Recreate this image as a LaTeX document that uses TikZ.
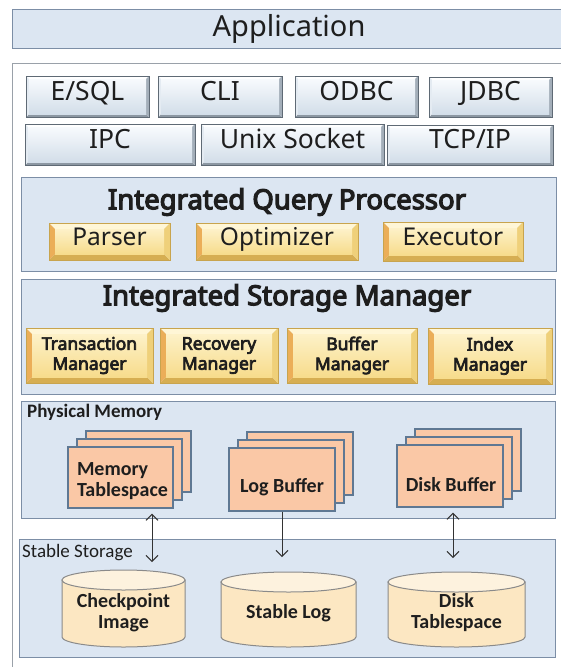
\documentclass[tikz,border=0pt]{standalone}
\usepackage{fontspec}
\setmainfont{Noto Sans}[AutoFakeBold=4]
\newfontfamily\titlefam{Noto Sans}[FakeBold=4.5]
\newfontfamily\mgrfam{Noto Sans}[FakeBold=4]
\newfontfamily\calfont{Carlito}
\usetikzlibrary{shadows,arrows.meta}
\definecolor{panelfill}{HTML}{DCE6F2}
\definecolor{panelline}{HTML}{7C8EA6}
\definecolor{outerline}{HTML}{9AA1A9}
\definecolor{bbfacetop}{HTML}{F7FAFD}
\definecolor{bbfacebot}{HTML}{D3DEE9}
\definecolor{bbtop}{HTML}{FFFFFF}
\definecolor{bbleft}{HTML}{E4EBF2}
\definecolor{bbright}{HTML}{A3AEB9}
\definecolor{bbbot}{HTML}{8C97A2}
\definecolor{bbline}{HTML}{5F6A75}
\definecolor{ybfacetop}{HTML}{FDF1C8}
\definecolor{ybfacebot}{HTML}{F7DC8C}
\definecolor{ybtop}{HTML}{FFF6D6}
\definecolor{ybleft}{HTML}{EBAE58}
\definecolor{ybright}{HTML}{EFD07A}
\definecolor{ybbot}{HTML}{D6AE52}
\definecolor{ybline}{HTML}{C8A44E}
\definecolor{peach}{HTML}{FAC8A6}
\definecolor{peachline}{HTML}{5F7893}
\definecolor{cylbody}{HTML}{FCE7C2}
\definecolor{cyltop}{HTML}{FDF2DE}
\definecolor{cylline}{HTML}{8A8A8A}
\definecolor{ink}{HTML}{1E1E1E}
\definecolor{arrowink}{HTML}{333333}

% bevelled button: name, x1, y1, x2, y2, bevel, scheme, text style, text
\newcommand\btn[9]{%
  \fill[#7-top] (#2,#3) -- (#4,#3) -- (#4-#6,#3+#6) -- (#2+#6,#3+#6) -- cycle;
  \fill[#7-bot] (#2,#5) -- (#4,#5) -- (#4-#6,#5-#6) -- (#2+#6,#5-#6) -- cycle;
  \fill[#7-left] (#2,#3) -- (#2+#6,#3+#6) -- (#2+#6,#5-#6) -- (#2,#5) -- cycle;
  \fill[#7-right] (#4,#3) -- (#4,#5) -- (#4-#6,#5-#6) -- (#4-#6,#3+#6) -- cycle;
  \shade[#7-face] (#2+#6,#3+#6) rectangle (#4-#6,#5-#6);
  \draw[#7-border] (#2,#3) rectangle (#4,#5);
  \node[#8] (#1) at ({(#2+#4)/2},{(#3+#5)/2}) {#9};
}
% cylinder: centre x, x radius, top y, bottom y
\newcommand\cylshape[4]{%
  \filldraw[fill=cylbody, draw=cylline, line width=1pt]
    (#1-#2,#3+10) -- (#1-#2,#4-10)
    arc[start angle=180, end angle=360, x radius=#2pt, y radius=10pt]
    -- (#1+#2,#3+10) -- cycle;
  \filldraw[fill=cyltop, draw=cylline, line width=1pt]
    (#1,#3+10) ellipse [x radius=#2pt, y radius=10pt];
}

\tikzset{
  bb-top/.style={fill=bbtop}, bb-bot/.style={fill=bbbot},
  bb-left/.style={fill=bbleft}, bb-right/.style={fill=bbright},
  bb-face/.style={top color=bbfacetop, bottom color=bbfacebot},
  bb-border/.style={draw=bbline, line width=1pt},
  yb-top/.style={fill=ybtop}, yb-bot/.style={fill=ybbot},
  yb-left/.style={fill=ybleft}, yb-right/.style={fill=ybright},
  yb-face/.style={top color=ybfacetop, bottom color=ybfacebot},
  yb-border/.style={draw=ybline, line width=0.5pt},
  ifacetext/.style={inner sep=0pt, text=ink, font=\fontsize{26.5}{30}\selectfont,
    text height=0.72em, text depth=0pt},
  btntext/.style={inner sep=0pt, text=ink, font=\fontsize{24.5}{28}\selectfont,
    text height=0.72em, text depth=0pt},
  mgrtext/.style={inner sep=0pt, text=ink, align=center,
    font=\mgrfam\fontsize{17.5}{20}\selectfont},
  panel/.style={draw=panelline, line width=1.1pt, fill=panelfill,
    anchor=north west, inner sep=0pt},
  title/.style={inner sep=0pt, text=ink, font=\titlefam\fontsize{27.5}{32}\selectfont},
  caption/.style={inner sep=0pt, text=ink, anchor=west},
  stackbox/.style={draw=peachline, line width=1.2pt, fill=peach,
    double copy shadow={shadow xshift=9pt, shadow yshift=8pt,
      draw=peachline, line width=1.2pt, fill=peach}},
  stacktext/.style={inner sep=0pt, text=ink, font=\calfont\bfseries\fontsize{20}{21}\selectfont},
  cyltext/.style={inner sep=0pt, text=ink, align=center,
    font=\calfont\bfseries\fontsize{20}{21}\selectfont},
  flow/.style={draw=arrowink, line width=1pt},
  tip/.tip={Straight Barb[length=6pt, width=12pt]}
}

\begin{document}
\begin{tikzpicture}[x=1pt,y=-1pt]
\clip (0,0) rectangle (561,667);
\fill[white] (0,0) rectangle (561,667);

% application
\node[panel, minimum width=553pt, minimum height=39pt, text=ink,
  font=\fontsize{29}{34}\selectfont] (app) at (12,9) {Application};

% outer frame
\node[draw=outerline, line width=1pt, anchor=north west, minimum width=560pt,
  minimum height=610pt, inner sep=0pt] (outer) at (12,63) {};

% interface buttons
\btn{esql}{26}{76}{149}{117}{3}{bb}{ifacetext}{E/SQL}
\btn{cli}{158}{76}{282}{117}{3}{bb}{ifacetext}{CLI}
\btn{odbc}{295}{76}{418}{117}{3}{bb}{ifacetext}{ODBC}
\btn{jdbc}{429}{77}{552}{117}{3}{bb}{ifacetext}{JDBC}
\btn{ipc}{25}{124}{195}{165}{3}{bb}{ifacetext}{IPC}
\btn{unix}{201}{124}{384}{165}{3}{bb}{ifacetext}{Unix Socket}
\btn{tcpip}{387}{125}{553}{165}{3}{bb}{ifacetext}{TCP/IP}

% query processor
\node[panel, minimum width=535pt, minimum height=94pt] (qp) at (21,177) {};
\node[title] (qptitle) at (287,202) {Integrated Query Processor};
\btn{parser}{49}{223}{170}{260}{6}{yb}{btntext}{Parser}
\btn{optimizer}{196}{223}{358}{260}{6}{yb}{btntext}{Optimizer}
\btn{executor}{383}{222}{523}{261}{6}{yb}{btntext}{Executor}

% storage manager
\node[panel, minimum width=534pt, minimum height=115pt] (sm) at (21,279) {};
\node[title] (smtitle) at (287,298) {Integrated Storage Manager};
\btn{txm}{26}{328}{153}{383}{6}{yb}{mgrtext}{Transaction\\Manager}
\btn{rcm}{160}{328}{278}{383}{6}{yb}{mgrtext}{Recovery\\Manager}
\btn{bfm}{287}{328}{417}{383}{6}{yb}{mgrtext}{Buffer\\Manager}
\btn{idm}{428}{328}{552}{384}{6}{yb}{mgrtext}{Index\\Manager}

% physical memory
\node[panel, minimum width=534pt, minimum height=117pt] (pm) at (21,401) {};
\node[caption, font=\calfont\bfseries\fontsize{19}{20}\selectfont] (pmcap) at (27,412) {Physical Memory};
\node[stackbox, minimum width=105pt, minimum height=61pt] (memtab) at (120.5,477.5) {};
\node[stackbox, minimum width=106pt, minimum height=63pt] (logbuf) at (282,479.5) {};
\node[stackbox, minimum width=106pt, minimum height=62pt] (dskbuf) at (450,476) {};
\node[stacktext, align=left] (memtabtxt) at (122.5,481) {Memory\\Tablespace};
\node[stacktext] (logbuftxt) at (282,487) {Log Buffer};
\node[stacktext] (dskbuftxt) at (451,485) {Disk Buffer};

% stable storage
\node[panel, minimum width=536pt, minimum height=118pt] (ss) at (19,539) {};
\node[caption, font=\calfont\fontsize{19}{20}\selectfont] (sscap) at (22,553) {Stable Storage};
\cylshape{123.5}{61.5}{570}{647}
\cylshape{288.5}{67.5}{572}{647}
\cylshape{456.5}{68.5}{572}{647}
\coordinate (ckpttop) at (123.5,570);
\coordinate (slogtop) at (288.5,572);
\coordinate (dtstop) at (456.5,572);
\node[cyltext] (ckpt) at (123.5,613) {Checkpoint\\Image};
\node[cyltext] (slog) at (288.5,613) {Stable Log};
\node[cyltext] (dts) at (456.5,613) {Disk\\Tablespace};

% connectors
\draw[flow, tip-tip, shorten <=5pt, shorten >=8pt]
  ([xshift=31.5pt]memtab.south) -- ([xshift=31.5pt]memtab.south |- ckpttop);
\draw[flow, -tip, shorten >=15pt]
  (logbuf.south) -- (logbuf.south |- slogtop);
\draw[flow, tip-tip, shorten <=5pt, shorten >=14pt]
  ([xshift=3pt]dskbuf.south) -- ([xshift=3pt]dskbuf.south |- dtstop);
\end{tikzpicture}
\end{document}
